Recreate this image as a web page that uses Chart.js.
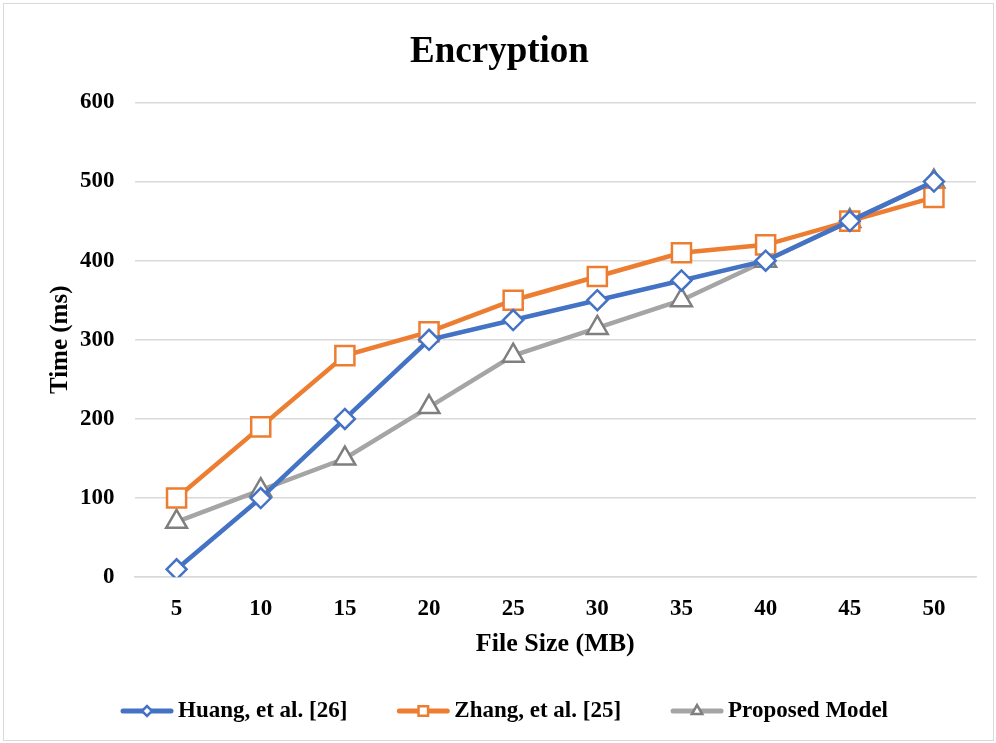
<!DOCTYPE html>
<html><head><meta charset="utf-8">
<script src="https://cdn.jsdelivr.net/npm/chart.js@4/dist/chart.umd.min.js"></script>
<style>
html,body{margin:0;padding:0;background:#fff;}
#wrap{position:absolute;left:3px;top:3px;width:991px;height:738px;border:1px solid #d9d9d9;box-sizing:border-box;}
canvas{display:block;}
</style></head><body>
<div id="wrap"><canvas id="c"></canvas></div>
<script>
const categories = ["5","10","15","20","25","30","35","40","45","50"];
const huang = [10,100,200,300,325,350,375,400,450,500];
const zhang = [100,190,280,310,350,380,410,420,450,480];
const proposed = [70,110,150,215,280,315,350,400,450,500];
const yTicks = [0,100,200,300,400,500,600];

const serif = "'Liberation Serif','Times New Roman',serif";
Chart.defaults.font.family = serif;
Chart.defaults.color = '#000';

const legendPlugin = {
  id:'lineLegend',
  afterDraw(chart){
    const ctx = chart.ctx;
    ctx.save();
    ctx.font = "bold 23px " + serif;
    ctx.textBaseline = 'middle';
    const lineW = 52, gapText = 5, gapItem = 50;
    const items = chart.data.datasets.map(d => ({d, w: lineW + gapText + ctx.measureText(d.label).width}));
    const total = items.reduce((s,i)=>s+i.w,0) + gapItem*(items.length-1);
    let x = (chart.width - total)/2 + 6;
    const y = 707;
    items.forEach(({d,w}) => {
      ctx.strokeStyle = d.borderColor; ctx.lineWidth = 5; ctx.lineCap='round';
      ctx.beginPath(); ctx.moveTo(x+2,y); ctx.lineTo(x+lineW-2,y); ctx.stroke();
      ctx.fillStyle = '#fff'; ctx.strokeStyle = d.pointBorderColor; ctx.lineWidth = 2.5;
      ctx.beginPath();
      Chart.helpers.drawPoint(ctx, {pointStyle:d.pointStyle, radius:d.pointRadius*0.5, borderWidth:2.5}, x+lineW/2, y);
      ctx.fillStyle = '#000';
      ctx.fillText(d.label, x+lineW+gapText, y);
      x += w + gapItem;
    });
    ctx.restore();
  }
};

new Chart(document.getElementById('c'), {
  type: 'line',
  data: {
    labels: categories,
    datasets: [
      {label:'Huang, et al. [26]', data:huang, borderColor:'#4472c4', backgroundColor:'#fff',
       pointBorderColor:'#4472c4', pointBackgroundColor:'#fff', pointStyle:'rectRot', pointRadius:10, pointBorderWidth:2.5, borderWidth:4.5},
      {label:'Zhang, et al. [25]', data:zhang, borderColor:'#ed7d31', backgroundColor:'#fff',
       pointBorderColor:'#ed7d31', pointBackgroundColor:'#fff', pointStyle:'rect', pointRadius:13.5, pointBorderWidth:2.5, borderWidth:4.5},
      {label:'Proposed Model', data:proposed, borderColor:'#a5a5a5', backgroundColor:'#fff',
       pointBorderColor:'#7f7f7f', pointBackgroundColor:'#fff', pointStyle:'triangle', pointRadius:12, pointBorderWidth:2.5, borderWidth:4.5}
    ]
  },
  options: {
    responsive:true, maintainAspectRatio:false, animation:false,
    layout:{padding:{left:19,right:17,top:26,bottom:80}},
    plugins:{
      legend:{display:false},
      title:{display:true,text:'Encryption',font:{size:37,weight:'bold',family:serif},color:'#000',padding:{top:0,bottom:28}}
    },
    scales:{
      x:{offset:true,grid:{display:false},border:{display:true,color:'#d9d9d9',width:1.5},
         ticks:{font:{size:23,weight:'bold'},color:'#000',padding:10},
         title:{display:true,text:'File Size (MB)',font:{size:26,weight:'bold'},color:'#000',padding:{top:-4,bottom:0}}},
      y:{min:0,max:600,afterBuildTicks(ax){ax.ticks=yTicks.map(v=>({value:v}));},
         grid:{color:'#d9d9d9',lineWidth:1.5,drawTicks:false},border:{display:false},
         ticks:{font:{size:23,weight:'bold'},color:'#000',padding:20},
         title:{display:true,text:'Time (ms)',font:{size:25,weight:'bold'},color:'#000',padding:{top:23,bottom:-16}}}
    }
  },
  plugins:[legendPlugin]
});
</script></body></html>
